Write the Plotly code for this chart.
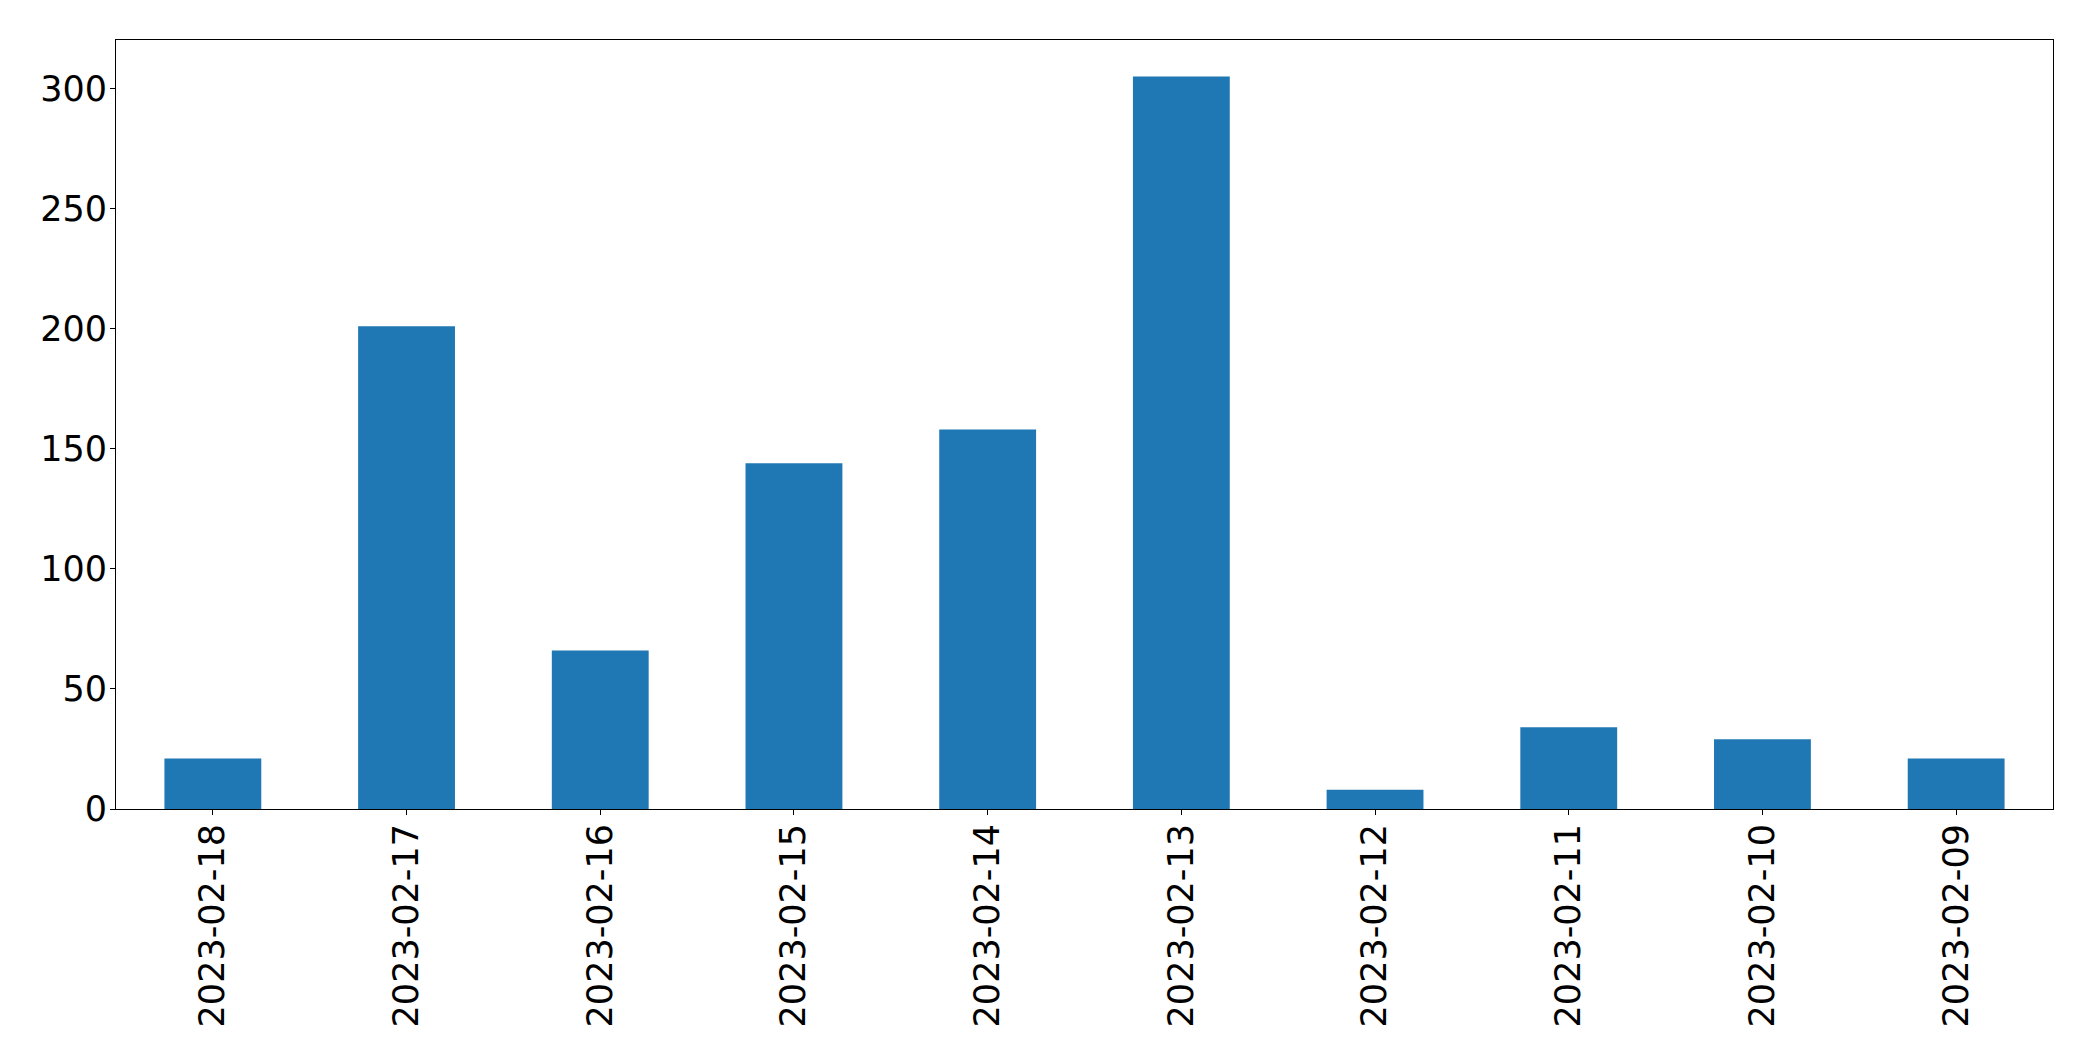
import plotly.graph_objects as go

dates = ["2023-02-18", "2023-02-17", "2023-02-16", "2023-02-15", "2023-02-14",
         "2023-02-13", "2023-02-12", "2023-02-11", "2023-02-10", "2023-02-09"]
counts = [21, 201, 66, 144, 158, 305, 8, 34, 29, 21]
y_ticks = [0, 50, 100, 150, 200, 250, 300]

fig = go.Figure(go.Bar(x=dates, y=counts, marker=dict(color="#1f77b4", line=dict(width=0))))

font = dict(family="DejaVu Sans", size=35, color="black")
fig.update_layout(
    width=2077, height=1045,
    margin=dict(l=108, r=32, t=32, b=244),
    plot_bgcolor="white", paper_bgcolor="white",
    bargap=0.5, showlegend=False,
    font=font,
)
fig.update_xaxes(type="category", range=[-0.5, 9.5], tickangle=-90,
                 ticks="outside", ticklen=5, tickwidth=1, tickcolor="black",
                 showline=True, linecolor="black", linewidth=1, mirror=True,
                 showgrid=False, tickfont=font, ticklabelstandoff=-5)
fig.update_yaxes(range=[0, 320.25], tickvals=y_ticks,
                 ticks="outside", ticklen=5, tickwidth=1, tickcolor="black",
                 showline=True, linecolor="black", linewidth=1, mirror=True,
                 showgrid=False, zeroline=False, tickfont=font, ticklabelstandoff=-4)

fig.write_html("out.html")
